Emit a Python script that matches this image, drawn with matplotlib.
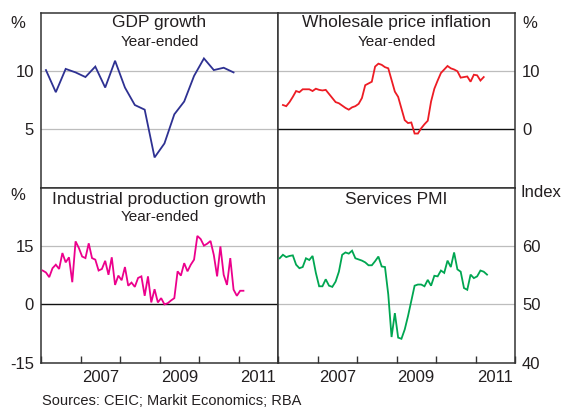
import matplotlib
matplotlib.use("Agg")
import matplotlib.pyplot as plt
import numpy as np

plt.rcParams['font.family'] = ['Liberation Sans', 'DejaVu Sans']

# ---------------- data ----------------
gdp_start = 2006.125  # Q1 2006 (mid-quarter), quarterly
gdp = [10.1, 8.2, 10.2, 9.9, 9.5, 10.4, 8.6, 10.9, 8.6, 7.1, 6.7, 2.6,
       3.8, 6.3, 7.4, 9.6, 11.1, 10.1, 10.3, 9.9]

wpi_start = (2006, 2)  # Feb 2006, monthly
wpi = [4.2, 4.0, 4.7, 5.6, 6.6, 6.4, 6.9, 6.9, 6.9, 6.6, 7.0, 6.8,
       6.7, 6.8, 6.1, 5.4, 4.7, 4.5, 4.1, 3.7, 3.4, 3.8, 4.0, 4.4,
       5.4, 7.6, 7.9, 8.2, 10.8, 11.3, 11.1, 10.7, 10.5, 8.5, 6.5, 5.6,
       3.6, 1.6, 1.1, 1.2, -0.7, -0.7, 0.2, 0.9, 1.5, 4.8, 7.0, 8.4,
       9.7, 10.3, 10.9, 10.5, 10.3, 10.0, 8.9, 9.0, 9.1, 8.2, 9.4, 9.3,
       8.4, 9.0]

ip_start = (2006, 1)  # Jan 2006, monthly
ip = [8.7, 8.2, 7.0, 9.3, 10.2, 9.1, 13.2, 10.8, 12.1, 5.7, 16.2, 14.5,
      12.3, 11.9, 15.7, 11.9, 11.5, 8.7, 9.1, 11.2, 7.6, 12.1, 5.0, 7.4,
      6.2, 9.6, 4.8, 5.6, 4.5, 6.8, 7.2, 2.2, 7.2, 0.5, 3.9, 0.5,
      1.6, 0.0, 0.3, 1.0, 1.6, 8.5, 7.4, 10.6, 8.5, 10.2, 11.5, 17.6,
      16.8, 15.1, 15.6, 16.3, 12.7, 7.2, 14.9, 7.6, 5.0, 11.9, 3.8, 2.2,
      3.5, 3.5]

pmi_start = (2006, 1)  # Jan 2006, monthly
pmi = [57.9, 58.5, 58.1, 58.3, 58.4, 56.8, 56.2, 56.4, 57.9, 57.6, 58.3, 55.4,
       53.1, 53.1, 54.3, 53.2, 53.0, 53.9, 55.6, 58.5, 58.9, 58.7, 59.2, 57.9,
       57.7, 57.5, 57.2, 56.7, 56.7, 57.4, 58.2, 56.5, 56.4, 51.7, 44.4, 48.5,
       44.3, 44.1, 45.7, 48.0, 50.6, 53.2, 53.4, 53.4, 53.1, 54.2, 53.2, 54.9,
       54.8, 55.8, 55.4, 57.5, 56.4, 58.9, 56.0, 55.6, 52.8, 52.5, 55.1, 54.5,
       54.8, 55.8, 55.6, 55.1]

year_ticks = [2006, 2007, 2008, 2009, 2010, 2011, 2012]
year_labels = ['2007', '2009', '2011']
year_label_pos = [2007.5, 2009.5, 2011.5]

titles = ['GDP growth', 'Wholesale price inflation',
          'Industrial production growth', 'Services PMI']
subtitles = ['Year-ended', 'Year-ended', 'Year-ended', '']
source = 'Sources: CEIC; Markit Economics; RBA'


def monthly_x(start, n):
    y0, m0 = start
    return np.array([y0 + (m0 - 1 + k + 0.5) / 12.0 for k in range(n)])


gdp_x = np.array([gdp_start + 0.25 * k for k in range(len(gdp))])
wpi_x = monthly_x(wpi_start, len(wpi))
ip_x = monthly_x(ip_start, len(ip))
pmi_x = monthly_x(pmi_start, len(pmi))

# ---------------- figure ----------------
W, H = 566, 407
fig = plt.figure(figsize=(W / 100, H / 100), dpi=100)

x_left, x_mid, x_right = 41, 278, 515
y_top, y_mid, y_bot = 13, 187.7, 362.7


def make_ax(x0, x1, y0, y1):
    return fig.add_axes([x0 / W, 1 - y1 / H, (x1 - x0) / W, (y1 - y0) / H])


ax_gdp = make_ax(x_left, x_mid, y_top, y_mid)
ax_wpi = make_ax(x_mid, x_right, y_top, y_mid)
ax_ip = make_ax(x_left, x_mid, y_mid, y_bot)
ax_pmi = make_ax(x_mid, x_right, y_mid, y_bot)

text_col = '#231f20'
frame_col = '#333333'
grid_col = '#bdbdbd'

cfg = [
    (ax_gdp, gdp_x, gdp, '#2e3192', (0, 15), [5, 10], [], 'left', '%'),
    (ax_wpi, wpi_x, wpi, '#ed1c24', (-10, 20), [10], [0], 'right', '%'),
    (ax_ip, ip_x, ip, '#ec008c', (-15, 30), [15], [0], 'left', '%'),
    (ax_pmi, pmi_x, pmi, '#00a651', (40, 70), [50, 60], [], 'right', 'Index'),
]

for i, (ax, x, y, col, ylim, grids, zeros, side, unit) in enumerate(cfg):
    ax.set_xlim(2006, 2012)
    ax.set_ylim(*ylim)
    for g in grids:
        ax.axhline(g, color=grid_col, lw=0.9, zorder=1)
    for z in zeros:
        ax.axhline(z, color='#111111', lw=1.0, zorder=1)
    ax.plot(x, y, color=col, lw=1.3, zorder=3, solid_joinstyle='miter')
    for s in ax.spines.values():
        s.set_color(frame_col)
        s.set_linewidth(1.1)
    # y tick labels
    if i < 2:
        yt = grids + zeros
    else:
        yt = grids + zeros + [ylim[0]]
    yt = sorted(yt)
    ax.set_yticks(yt)
    ax.set_yticklabels([f'{v:g}' for v in yt])
    if side == 'right':
        ax.yaxis.tick_right()
    ax.tick_params(axis='y', length=0, pad=5, labelsize=12, labelcolor=text_col)
    # unit label
    if side == 'left':
        ax.text(-0.068, 0.94 if i == 0 else 0.955, unit, transform=ax.transAxes,
                ha='right', va='center', fontsize=12, color=text_col)
    else:
        ax.text(1.03 if unit == '%' else 1.025, 0.94 if i == 1 else 0.97, unit,
                transform=ax.transAxes, ha='left', va='center', fontsize=12,
                color=text_col)
    # titles
    ax.text(0.5, 0.943 if i < 2 else 0.932, titles[i], transform=ax.transAxes,
            ha='center', va='center', fontsize=12.5, color=text_col)
    if subtitles[i]:
        ax.text(0.5, 0.833 if i < 2 else 0.83, subtitles[i],
                transform=ax.transAxes, ha='center', va='center',
                fontsize=11, color=text_col)
    # x axis
    ax.set_xticks(year_ticks)
    ax.set_xticklabels([])
    ax.set_xticks(year_label_pos, minor=True)
    if i >= 2:
        ax.set_xticklabels(year_labels, minor=True)
        ax.tick_params(axis='x', which='major', direction='in', length=5,
                       width=1.0, color=frame_col)
        ax.tick_params(axis='x', which='minor', length=0, pad=5,
                       labelsize=12, labelcolor=text_col)
    else:
        ax.tick_params(axis='x', which='both', length=0)

fig.text(42 / W, 1 - 401 / H, source, ha='left', va='center',
         fontsize=10.5, color=text_col)

fig.savefig('out.png', dpi=100)
